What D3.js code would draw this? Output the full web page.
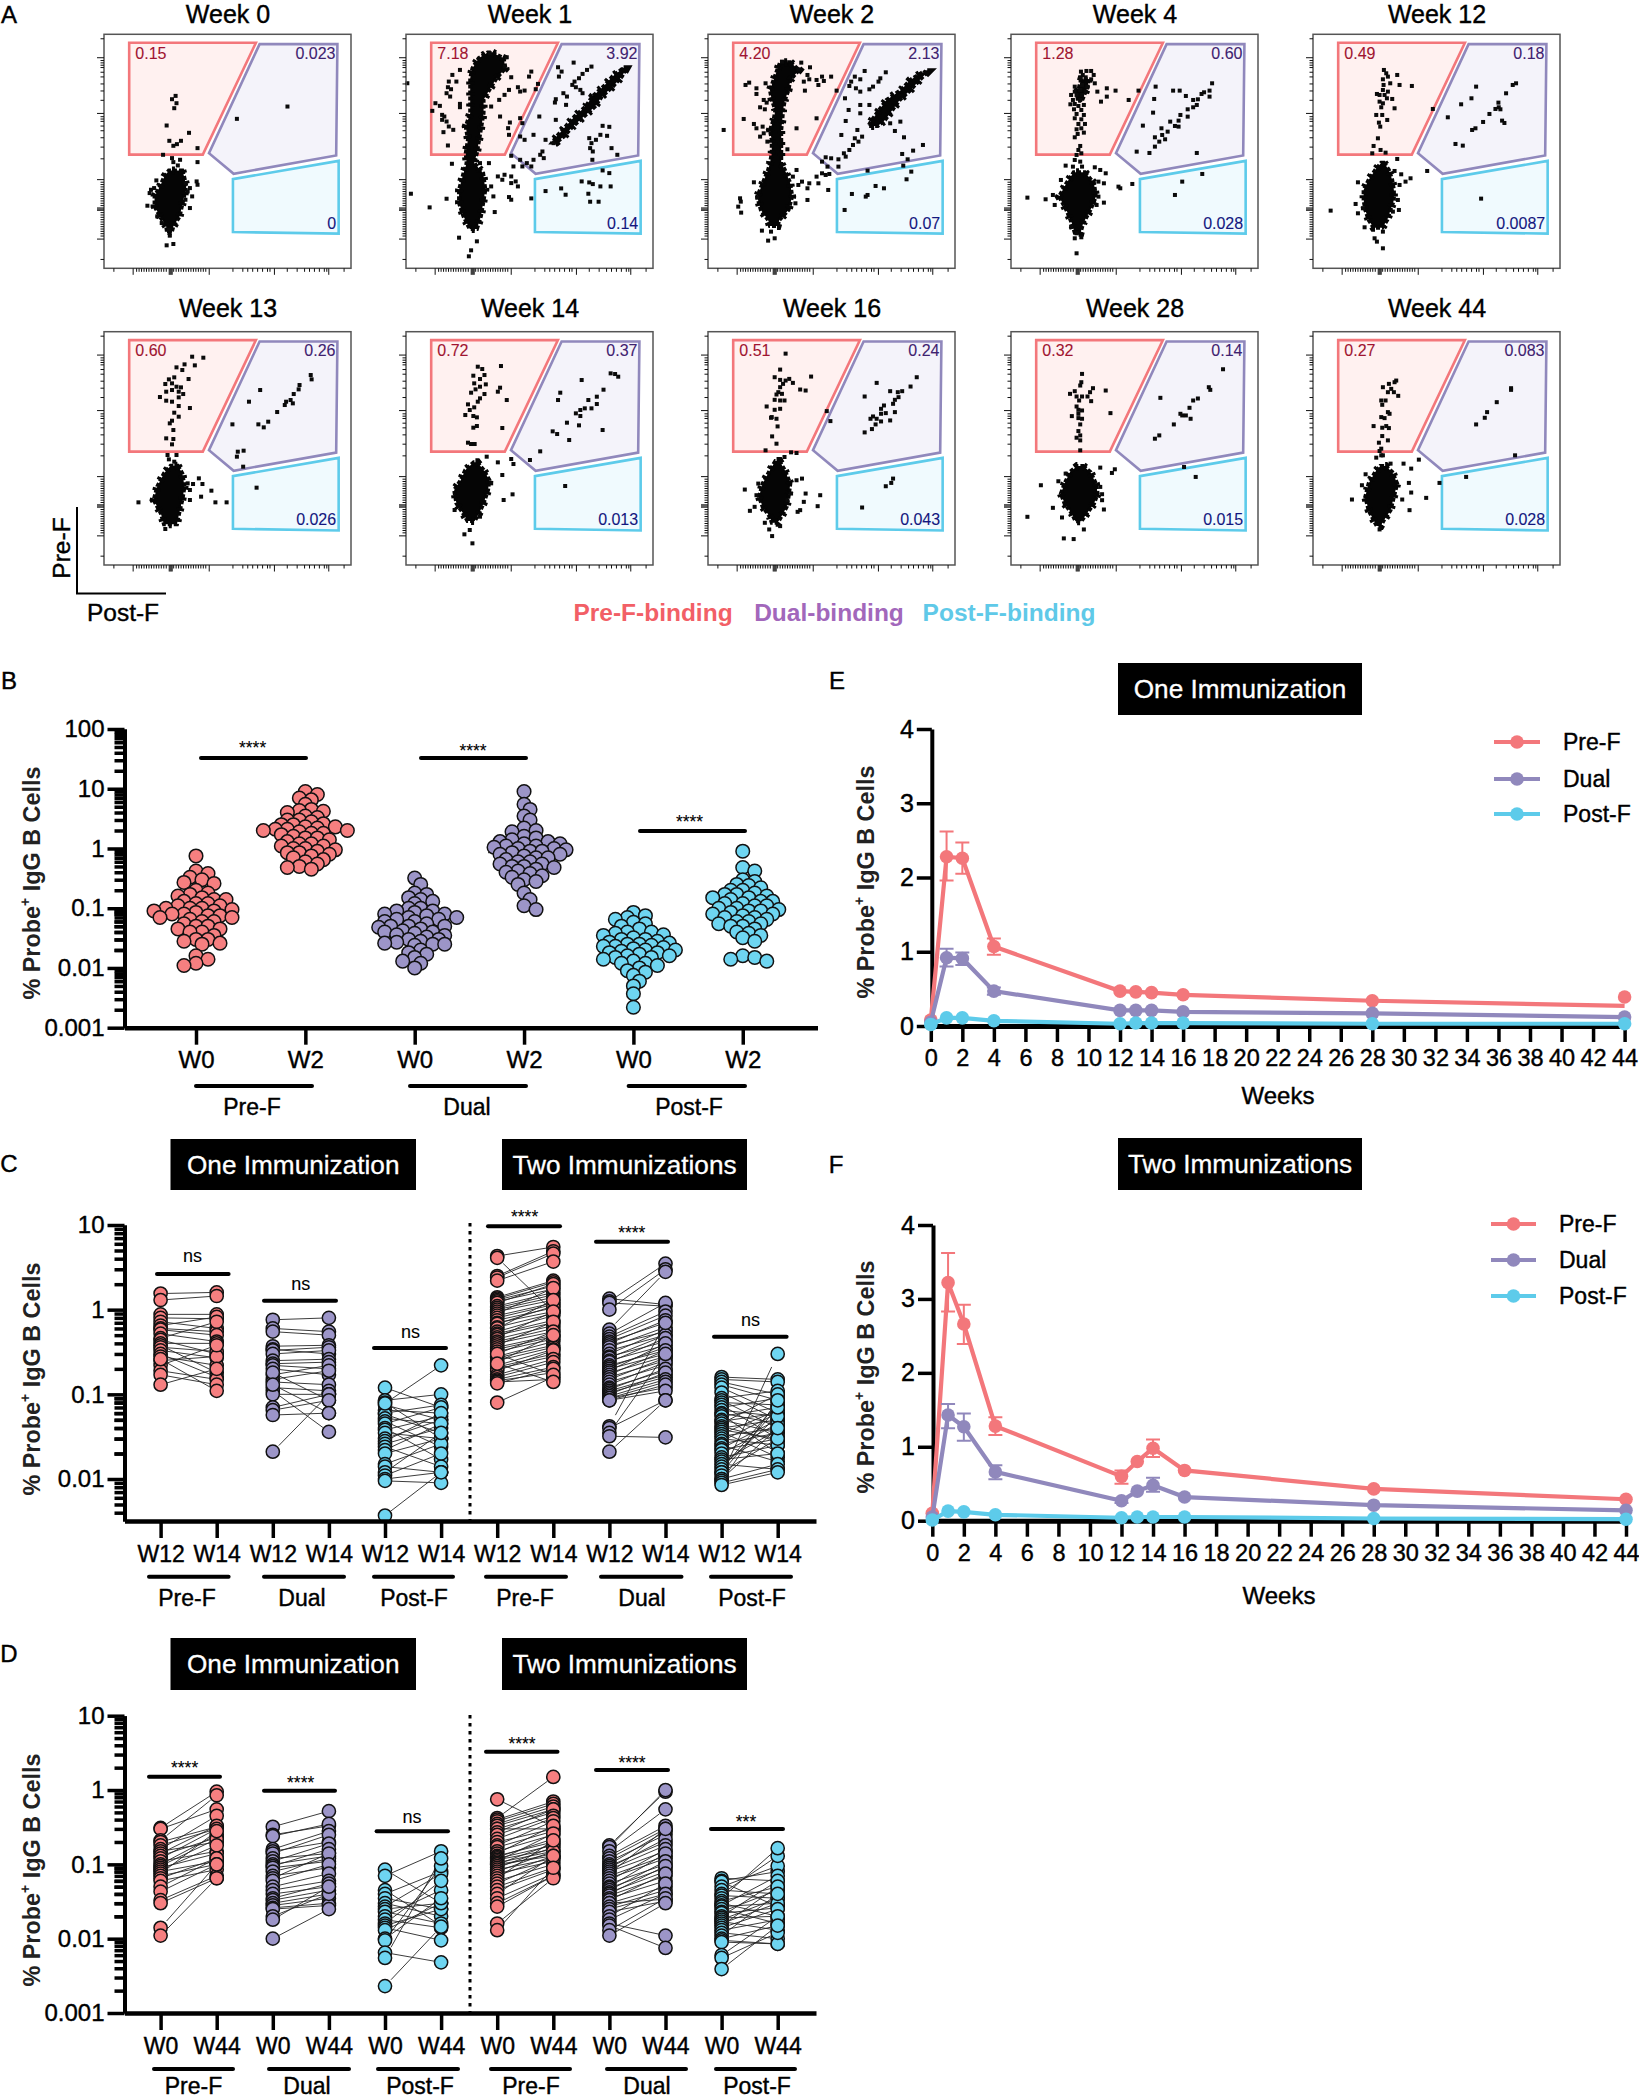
<!DOCTYPE html>
<html><head><meta charset="utf-8">
<script src="https://cdn.jsdelivr.net/npm/d3@7/dist/d3.min.js"></script>
<style>
html,body{margin:0;padding:0;background:#fff}
svg{display:block}
text{font-family:"Liberation Sans",Arial,sans-serif;fill:#000}
</style></head><body>
<svg id="fig" width="1639" height="2100" viewBox="0 0 1639 2100"></svg>
<script>
// ---------- Panel A: flow plots (channel readings, per-week channel windows) ----------
const weekTitles=["Week 0","Week 1","Week 2","Week 4","Week 12","Week 13","Week 14","Week 16","Week 28","Week 44"];
const preGateValues=["0.15","7.18","4.20","1.28","0.49","0.60","0.72","0.51","0.32","0.27"];
const dualGateValues=["0.023","3.92","2.13","0.60","0.18","0.26","0.37","0.24","0.14","0.083"];
const postGateValues=["0","0.14","0.07","0.028","0.0087","0.026","0.013","0.043","0.015","0.028"];
const xChannelWindows=[[233,785],[909,1463],[22,700],[855,1533],[40,782],[233,785],[909,1463],[22,700],[855,1533],[40,782]];
const yChannelWindows=[[103,806],[103,806],[43,745],[43,745],[43,745],[125,825],[125,825],[33,735],[33,735],[33,735]];
const gatePre=[[10.2,3.6],[61.5,3.6],[40,51.4],[10.2,51.4]];
const gateDual=[[63,4.2],[94.5,4.2],[94,51.8],[52.5,59.6],[42.5,50.8]];
const gatePost=[[52.2,61.9],[95,54.1],[95,85.2],[52.2,84.5]];
const flowXMajor=[11.6,26.2,26.6,27,27.4,42.4,68.8,90.8];
const flowXMinor=[3.8,13,14,15,16,17,18,19,20,21,22,23,24,25,28,29,30,31,32,33,34,35,36,37,38,39,40,41,52,56,58,60,62,64,66,67,74,78,81,83,85,87,89,90,97];
const flowYMajor=[9.8,33.6,61.9,74,74.5,75,87.3];
const flowYMinor=[1.7,11,12,13,14,16,18,21,24,28,35,36,37,39,41,44,48,53,63,64,65,66,67,68,69,70,71,72,73,76,77,78,79,80,81,82,83,84,85,86,96];

const week0Cloud=[[512,378,408],[530,368,412],[560,358,417],[590,346,412],[620,346,407],[650,358,402],[680,372,388],[700,374,384]];
const week0Dots=[[393,288],[385,298],[395,310],[390,325],[373,377],[423,399],[379,423],[405,423],[396,433],[388,438],[442,445],[365,465],[385,475],[388,487],[403,480],[442,487],[398,497],[643,320],[530,357],[350,542],[440,545],[442,555],[415,550],[425,565],[338,570],[345,565],[335,580],[330,618],[425,625],[352,650],[362,670],[378,690],[380,708],[373,737],[388,733],[430,590],[415,600],[420,575]];
const week1Cloud=[[158,1092,1103],[175,1072,1128],[205,1058,1132],[235,1053,1112],[265,1053,1098],[300,1053,1083],[340,1053,1083],[380,1043,1078],[420,1048,1073],[460,1043,1068],[490,1045,1062],[520,1038,1082],[570,1028,1087],[610,1028,1082],[650,1038,1077],[688,1052,1068]];
const week1Diag=[[208,1393,1402],[230,1372,1393],[260,1352,1373],[290,1327,1348],[320,1312,1333],[350,1287,1308],[380,1267,1283],[410,1247,1263],[428,1237,1246]];
const week1Dots=[[1097,160],[1135,172],[1030,210],[1013,225],[1190,215],[1185,230],[1005,245],[1022,245],[1003,262],[1010,268],[975,310],[985,318],[1030,312],[1030,322],[1008,290],[1000,280],[968,333],[990,345],[995,350],[990,360],[1000,365],[1005,380],[1015,390],[993,397],[1003,437],[1130,285],[1140,270],[1160,262],[1175,272],[1165,275],[1120,350],[1165,355],[1142,368],[1138,385],[1140,405],[1118,300],[1100,320],[1130,200],[1145,232],[1200,268],[1205,252],[1250,202],[1285,188],[1258,215],[1252,230],[1325,200],[1315,210],[1305,222],[1297,235],[1287,245],[1282,255],[1290,262],[1300,270],[1305,280],[1262,280],[1270,290],[1245,298],[1243,308],[1268,315],[1170,370],[1208,350],[1245,360],[1195,405],[1165,410],[1175,420],[1222,420],[1240,430],[1215,455],[1210,465],[1218,475],[1195,480],[1180,490],[1190,500],[1145,468],[1165,480],[1170,500],[1150,500],[1130,525],[1115,530],[1145,530],[1125,540],[1155,545],[1160,560],[1145,550],[1100,560],[1105,590],[1140,592],[1145,600],[1190,596],[1108,637],[1012,492],[1075,490],[1095,490],[920,582],[962,623],[912,250],[1028,714],[1068,725],[1055,752],[1050,770],[1000,597],[1350,378],[1365,381],[1360,408],[1345,405],[1320,415],[1335,420],[1325,430],[1322,445],[1328,455],[1370,445],[1383,465],[1327,480],[1350,512],[1365,520],[1368,560],[1303,545],[1320,548],[1328,553],[1345,560],[1222,574],[1257,566],[1267,585],[1318,582],[1322,606],[1341,606]];
const week2Cloud=[[127,220,248],[150,212,272],[180,202,248],[210,192,243],[240,197,233],[270,207,228],[300,202,226],[330,192,223],[360,197,223],[400,197,223],[430,192,223],[450,187,233],[490,172,248],[530,157,253],[570,167,243],[600,187,218],[618,192,213]];
const week2Diag=[[157,611,624],[180,577,603],[210,552,578],[240,512,548],[270,492,528],[300,472,508],[318,462,488]];
const week2Dots=[[225,125],[278,128],[302,142],[270,148],[295,165],[300,178],[135,188],[125,195],[155,205],[180,190],[155,222],[285,185],[320,180],[335,170],[340,183],[360,170],[325,195],[375,212],[288,212],[175,240],[183,248],[165,262],[178,268],[120,297],[320,295],[265,325],[148,312],[155,325],[172,320],[175,340],[165,350],[185,365],[240,388],[65,330],[452,153],[510,157],[495,175],[490,185],[475,200],[465,208],[425,170],[440,178],[415,185],[410,198],[428,205],[440,215],[398,235],[440,255],[408,270],[465,255],[440,280],[400,303],[432,330],[425,355],[388,345],[445,350],[435,365],[420,375],[410,390],[395,400],[400,410],[380,418],[360,415],[345,412],[335,425],[350,440],[380,440],[355,462],[335,460],[320,470],[345,465],[300,490],[325,490],[280,485],[265,450],[255,470],[270,495],[295,505],[352,510],[295,540],[262,550],[522,310],[550,305],[535,333],[560,352],[612,375],[585,392],[555,402],[570,418],[558,437],[580,455],[567,478],[505,505],[482,498],[460,525],[455,530],[417,522],[397,570],[460,452],[148,487],[110,535],[112,545],[105,560],[113,578],[157,533],[170,632],[187,662],[205,655],[195,635]];
const week4Cloud=[[457,1027,1058],[490,1007,1083],[530,987,1088],[570,1007,1073],[610,1022,1053],[638,1030,1046]];
const week4Upper=[[178,1048,1068],[200,1042,1066],[220,1036,1058],[236,1038,1052]];
const week4Dots=[[1047,155],[1062,153],[1075,153],[1052,165],[1082,165],[1045,175],[1060,172],[1075,178],[1085,190],[1050,195],[1030,200],[1065,200],[1030,215],[1045,210],[1060,215],[1020,225],[1035,225],[1050,225],[1025,240],[1045,240],[1030,252],[1018,253],[1040,258],[1055,255],[1028,268],[1048,270],[1035,282],[1055,285],[1030,295],[1048,298],[1040,312],[1058,312],[1035,328],[1048,325],[1038,342],[1055,338],[1030,352],[1045,378],[1040,390],[1048,400],[1035,405],[1030,420],[1045,425],[1005,437],[1025,440],[1050,440],[1085,442],[1100,450],[1115,460],[1092,215],[1118,205],[1142,212],[1102,245],[1118,230],[1178,240],[1205,212],[1252,200],[1300,212],[1318,212],[1248,237],[1245,278],[1335,228],[1407,190],[1400,212],[1385,217],[1378,222],[1400,230],[1368,238],[1355,240],[1365,255],[1355,262],[1340,268],[1320,285],[1340,290],[1315,302],[1292,305],[1305,318],[1315,320],[1285,335],[1268,325],[1270,345],[1250,352],[1278,358],[1262,365],[1250,380],[1217,317],[1200,395],[1235,399],[1365,399],[1380,462],[1325,485],[1305,525],[1188,492],[1150,500],[1155,505],[900,533],[950,538],[975,555],[970,525],[992,480],[1110,548],[1090,555],[1095,530],[1020,620],[1035,640],[1048,652],[1030,655],[1035,700],[1110,490],[1095,485]];
const week12Cloud=[[428,245,253],[450,227,268],[480,207,278],[510,192,283],[540,192,283],[570,197,273],[600,207,263],[623,222,248]];
const week12Dots=[[253,150],[260,160],[265,170],[293,165],[250,178],[272,190],[300,195],[337,198],[252,195],[250,210],[265,215],[232,222],[240,225],[255,225],[262,235],[278,237],[240,245],[250,250],[245,262],[285,265],[248,285],[230,285],[263,300],[238,308],[242,320],[235,355],[222,378],[243,390],[258,398],[218,400],[293,417],[400,267],[530,200],[516,235],[485,253],[445,292],[640,195],[650,190],[620,220],[597,248],[598,262],[588,267],[603,268],[570,282],[551,306],[608,302],[615,309],[528,325],[518,330],[468,372],[490,377],[383,453],[333,475],[318,485],[305,463],[285,453],[175,487],[300,495],[295,540],[168,552],[93,572],[175,580],[190,565],[298,570],[280,575],[195,622],[225,655],[232,665],[250,685],[545,536],[250,635]];
const week13Cloud=[[527,382,398],[550,367,408],[590,352,413],[630,344,408],[670,360,401],[703,367,396]];
const week13Dots=[[430,200],[455,203],[413,223],[436,226],[395,232],[408,240],[390,262],[378,268],[422,267],[370,282],[385,280],[395,290],[405,292],[372,305],[385,300],[400,305],[410,312],[358,321],[372,332],[385,335],[400,322],[400,348],[425,354],[390,368],[400,380],[385,392],[380,400],[388,420],[372,445],[388,447],[385,463],[375,495],[395,495],[378,508],[390,515],[310,637],[432,582],[445,565],[453,582],[420,580],[425,600],[473,602],[450,620],[425,630],[482,637],[507,637],[370,717],[582,300],[557,335],[695,255],[697,268],[670,285],[668,298],[657,312],[650,330],[640,335],[637,345],[655,340],[620,366],[600,395],[590,412],[578,403],[520,403],[545,482],[532,485],[530,500],[544,530],[574,593]];
const week14Cloud=[[517,1061,1069],[540,1042,1083],[570,1032,1096],[600,1017,1093],[640,1022,1083],[670,1037,1073],[693,1047,1063]];
const week14Dots=[[1070,230],[1080,237],[1122,228],[1060,257],[1085,255],[1075,267],[1062,280],[1088,283],[1075,290],[1065,298],[1055,308],[1085,312],[1120,293],[1115,305],[1075,325],[1070,335],[1135,330],[1048,343],[1062,352],[1052,360],[1042,375],[1060,378],[1068,382],[1060,413],[1068,408],[1125,414],[1048,458],[1055,462],[1063,462],[1090,500],[1115,517],[1145,507],[1150,522],[1187,510],[1125,555],[1148,613],[1128,630],[1210,484],[1255,308],[1303,270],[1250,330],[1352,299],[1337,320],[1318,330],[1368,250],[1378,252],[1385,260],[1337,342],[1325,355],[1310,355],[1300,360],[1290,370],[1300,378],[1270,398],[1297,406],[1238,424],[1248,432],[1275,450],[1350,420],[1266,588],[1100,580],[1040,733],[1052,720],[1058,760],[1018,660],[1075,680]];
const week16Cloud=[[422,207,218],[450,192,233],[490,172,248],[530,162,243],[560,172,238],[590,192,223],[608,197,213]];
const week16Dots=[[235,99],[220,147],[305,168],[205,170],[220,178],[235,180],[245,175],[255,187],[228,190],[220,200],[215,215],[275,207],[290,210],[210,222],[225,220],[205,238],[220,240],[232,240],[183,258],[205,268],[220,265],[197,290],[210,295],[195,292],[213,318],[198,348],[180,390],[210,370],[250,396],[232,410],[265,398],[348,272],[358,302],[595,170],[578,198],[555,212],[543,215],[522,212],[485,187],[452,228],[545,230],[535,238],[530,250],[505,255],[497,265],[535,275],[510,278],[497,280],[475,288],[468,295],[485,295],[497,303],[522,300],[482,312],[472,326],[452,336],[530,475],[525,488],[510,498],[445,562],[280,475],[265,480],[250,520],[290,520],[330,525],[285,545],[323,558],[275,570],[268,575],[137,572],[123,508],[160,490],[155,525],[178,608],[190,628],[220,618],[198,648],[240,540],[150,560]];
const week28Cloud=[[437,1037,1053],[455,1017,1073],[490,1002,1088],[520,992,1093],[550,1002,1083],[580,1022,1063],[603,1032,1048]];
const week28Dots=[[1050,160],[1048,185],[1045,195],[1115,210],[1080,203],[1030,212],[1017,220],[1072,215],[1035,228],[1050,228],[1065,228],[1042,240],[1075,242],[1035,258],[1040,268],[1050,270],[1128,278],[1040,280],[1022,287],[1040,293],[1050,295],[1045,312],[1040,332],[1045,345],[1035,352],[1045,360],[1045,390],[1100,442],[1140,447],[1132,458],[1005,460],[985,483],[937,495],[900,590],[970,563],[995,592],[1000,655],[1027,657],[1110,568],[1105,540],[1105,522],[1100,500],[1055,628],[1265,232],[1437,146],[1398,200],[1402,208],[1368,234],[1355,240],[1345,262],[1320,280],[1325,285],[1335,285],[1348,295],[1302,312],[1262,345],[1250,355],[1330,440],[1362,470]];
const week44Cloud=[[437,242,258],[455,227,278],[490,207,293],[530,197,283],[570,207,273],[600,222,253],[618,232,243]];
const week44Dots=[[290,180],[285,185],[268,190],[250,200],[275,205],[265,215],[283,215],[296,226],[245,240],[258,240],[248,253],[265,275],[270,280],[245,290],[255,293],[222,317],[260,317],[268,323],[248,322],[248,347],[265,360],[238,367],[245,385],[240,392],[245,405],[230,412],[250,405],[273,430],[312,430],[335,445],[358,418],[328,488],[335,517],[308,538],[380,533],[330,570],[420,488],[157,538],[187,495],[198,462],[500,470],[635,203],[635,208],[592,245],[563,275],[556,292],[530,312],[647,405],[240,628]];
const weekClouds=[week0Cloud,week1Cloud,week2Cloud,week4Cloud,week12Cloud,week13Cloud,week14Cloud,week16Cloud,week28Cloud,week44Cloud];
const weekSecondClouds=[[],week1Diag,week2Diag,week4Upper,[],[],[],[],[],[]];
const weekDots=[week0Dots,week1Dots,week2Dots,week4Dots,week12Dots,week13Dots,week14Dots,week16Dots,week28Dots,week44Dots];

// ---------- Panel B ----------
const bLabels=["W0","W2","W0","W2","W0","W2"];
const bPreW0=[.75,.42,.38,.33,.3,.27,.26,.2,.18,.17,.16,.15,.14,.14,.13,.12,.12,.11,.11,.1,.1,.1,.095,.09,.09,.085,.08,.08,.075,.075,.07,.07,.065,.06,.06,.055,.05,.05,.045,.045,.04,.04,.035,.03,.03,.028,.026,.025,.016,.014,.012,.011];
const bPreW2=[9,8,7,6.5,5.5,4.5,4.3,4.2,4,3.5,3.3,3,3,2.8,2.6,2.5,2.5,2.3,2.3,2.2,2.1,2.1,2,2,1.9,1.8,1.8,1.7,1.6,1.5,1.5,1.4,1.3,1.2,1.2,1.1,1.1,1,1,.95,.9,.85,.85,.8,.75,.7,.65,.6,.55,.5,.48,.45];
const bDualW0=[.32,.25,.18,.17,.15,.14,.13,.12,.1,.1,.09,.09,.085,.08,.08,.075,.07,.07,.065,.065,.06,.06,.055,.05,.05,.05,.048,.045,.042,.04,.04,.038,.036,.035,.033,.03,.03,.028,.027,.026,.025,.025,.024,.02,.018,.017,.015,.013,.012,.01];
const bDualW2=[9,5.5,4.5,3.5,3,2.2,2,1.9,1.6,1.5,1.4,1.3,1.3,1.2,1.2,1.1,1.1,1.05,1,1,.95,.9,.9,.85,.8,.8,.75,.7,.7,.65,.6,.6,.55,.55,.5,.5,.48,.45,.42,.4,.38,.35,.33,.3,.28,.25,.18,.14,.11,.095];
const bPostW0=[.085,.075,.07,.065,.058,.055,.05,.045,.04,.04,.038,.036,.035,.032,.03,.03,.028,.027,.026,.025,.025,.024,.023,.023,.022,.021,.02,.02,.019,.018,.018,.017,.016,.016,.015,.015,.014,.013,.012,.012,.011,.01,.009,.0085,.0075,.006,.005,.0037,.0022];
const bPostW2=[.9,.48,.42,.3,.28,.25,.24,.22,.2,.2,.18,.17,.17,.16,.15,.15,.14,.13,.13,.12,.12,.11,.11,.1,.1,.095,.09,.09,.085,.08,.08,.075,.07,.07,.065,.06,.06,.055,.055,.05,.05,.045,.04,.038,.035,.032,.028,.016,.015,.014,.013];
const bColumns=[bPreW0,bPreW2,bDualW0,bDualW2,bPostW0,bPostW2];
const bCentres=[.08,2.1,.05,.85,.025,.09];
const logMajor5=[100,10,1,.1,.01,.001];
const logMajorLabels=["100","10","1","0.1","0.01","0.001"];
const logMultipliers=[2,3,4,5,6,7,8,9];

// ---------- Panel C pairs [W12,W14] ----------
const cLabels=["W12","W14","W12","W14","W12","W14","W12","W14","W12","W14","W12","W14"];
const cOnePre=[[1.55,1.6],[1.3,1.45],[.88,.88],[.8,.78],[.72,.6],[.65,.82],[.6,.55],[.58,.5],[.52,.42],[.46,.72],[.44,.3],[.4,.4],[.38,.18],[.36,.32],[.33,.27],[.3,.16],[.28,.22],[.25,.28],[.22,.38],[.19,.15],[.17,.13],[.13,.2],[.26,.11]];
const cOneDual=[[.76,.8],[.6,.55],[.55,.5],[.37,.38],[.34,.3],[.33,.36],[.3,.33],[.25,.26],[.23,.24],[.22,.2],[.2,.17],[.17,.22],[.15,.19],[.14,.13],[.12,.11],[.11,.036],[.1,.1],[.07,.1],[.065,.085],[.057,.06],[.021,.1],[.18,.085],[.13,.06]];
const cOnePost=[[.12,.07],[.085,.1],[.08,.03],[.075,.05],[.065,.06],[.06,.075],[.058,.035],[.052,.045],[.048,.024],[.045,.07],[.04,.017],[.038,.055],[.035,.03],[.03,.05],[.028,.06],[.026,.04],[.024,.014],[.022,.045],[.02,.03],[.015,.026],[.014,.012],[.012,.035],[.011,.02],[.01,.012],[.0095,.009],[.0037,.012],[.078,.22]];
const cTwoPre=[[4.3,5.5],[2.5,4.9],[2.4,4.6],[2.2,3.7],[4.1,.95],[1.4,2.2],[1.35,2.1],[1.3,1.9],[1.25,1.75],[1.2,2],[1.1,1.6],[1.05,1.5],[1,1.4],[.95,1.3],[.9,1.8],[.85,1.2],[.8,1.15],[.75,1.05],[.7,.95],[.68,1.1],[.62,.9],[.6,1.3],[.55,.85],[.52,.75],[.5,.7],[.47,.95],[.45,.65],[.42,.6],[.4,.55],[.38,.72],[.36,.5],[.34,.48],[.32,.45],[.3,.55],[.28,.42],[.27,.38],[.25,.36],[.24,.5],[.22,.34],[.21,.3],[.2,.28],[.19,.33],[.17,.26],[.16,.24],[.15,.21],[.145,.18],[.14,.15],[.135,.2],[.08,.16],[.3,.17],[.23,.14]];
const cTwoDual=[[1.35,1.15],[1.25,3.5],[1.2,1.1],[1,3],[.58,2.8],[.52,1.2],[.48,.95],[.45,.85],[.42,.7],[.4,.75],[.38,.55],[.36,.62],[.33,.5],[.3,.58],[.28,.42],[.27,.5],[.25,.38],[.24,.46],[.22,.33],[.21,.36],[.2,.3],[.19,.4],[.18,.28],[.17,.33],[.16,.25],[.15,.27],[.14,.22],[.13,.24],[.12,.19],[.115,.2],[.11,.17],[.105,.16],[.1,.18],[.095,.15],[.09,.14],[.09,.12],[.085,.13],[.085,.11],[.042,.7],[.04,.085],[.035,.3],[.032,.031],[.021,.085]];
const cTwoPost=[[.16,.15],[.15,.14],[.14,.1],[.13,.085],[.12,.06],[.105,.05],[.09,.11],[.085,.04],[.08,.075],[.075,.03],[.07,.09],[.065,.055],[.06,.045],[.058,.02],[.055,.07],[.05,.035],[.048,.06],[.045,.1],[.042,.028],[.04,.05],[.038,.03],[.036,.018],[.034,.065],[.032,.04],[.03,.025],[.028,.06],[.026,.035],[.025,.016],[.023,.05],[.022,.03],[.02,.045],[.018,.025],[.017,.02],[.016,.038],[.015,.013],[.014,.055],[.013,.08],[.012,.07],[.012,.03],[.011,.3],[.01,.04],[.01,.015],[.0095,.085],[.009,.013],[.0085,.012]];
const cGroups=[cOnePre,cOneDual,cOnePost,cTwoPre,cTwoDual,cTwoPost];

// ---------- Panel D pairs [W0,W44] ----------
const dLabels=["W0","W44","W0","W44","W0","W44","W0","W44","W0","W44","W0","W44"];
const dOnePre=[[.31,.95],[.3,.55],[.21,.85],[.2,.32],[.18,.3],[.16,.45],[.15,.2],[.14,.33],[.13,.23],[.12,.3],[.11,.15],[.1,.25],[.095,.22],[.09,.14],[.085,.18],[.08,.11],[.075,.28],[.07,.1],[.065,.12],[.06,.085],[.05,.12],[.043,.1],[.033,.07],[.03,.065],[.014,.1],[.011,.065]];
const dOneDual=[[.32,.52],[.25,.33],[.24,.35],[.16,.28],[.15,.2],[.14,.25],[.12,.14],[.11,.19],[.1,.13],[.095,.16],[.09,.11],[.08,.12],[.07,.09],[.065,.14],[.06,.1],[.05,.075],[.045,.06],[.04,.05],[.035,.055],[.033,.045],[.03,.04],[.028,.035],[.026,.03],[.025,.028],[.02,.04],[.018,.05],[.01,.025]];
const dOnePost=[[.085,.03],[.07,.15],[.045,.015],[.04,.08],[.035,.025],[.03,.02],[.027,.075],[.025,.03],[.023,.016],[.02,.045],[.018,.014],[.016,.06],[.015,.025],[.014,.0095],[.013,.03],[.01,.035],[.0095,.095],[.0065,.0048],[.0055,.12],[.0023,.0145]];
const dTwoPre=[[.75,.32],[.42,1.5],[.4,.7],[.38,.65],[.35,.6],[.33,.55],[.3,.5],[.3,.3],[.27,.55],[.25,.45],[.22,.42],[.2,.3],[.18,.38],[.17,.28],[.15,.25],[.14,.33],[.13,.2],[.125,.22],[.12,.18],[.115,.16],[.11,.26],[.105,.15],[.1,.19],[.1,.13],[.095,.14],[.09,.17],[.085,.12],[.08,.15],[.075,.11],[.07,.13],[.065,.21],[.06,.1],[.055,.12],[.05,.09],[.045,.085],[.04,.13],[.035,.075],[.03,.07],[.027,.07],[.016,.065],[.013,.09]];
const dTwoDual=[[.18,.95],[.17,1],[.15,.55],[.13,.33],[.12,.3],[.11,.25],[.1,.28],[.095,.2],[.09,.22],[.085,.18],[.08,.15],[.075,.3],[.07,.13],[.065,.12],[.06,.16],[.055,.1],[.05,.14],[.048,.09],[.045,.11],[.042,.08],[.04,.095],[.038,.07],[.035,.06],[.033,.075],[.03,.05],[.03,.034],[.027,.045],[.025,.04],[.023,.032],[.02,.055],[.018,.04],[.016,.011],[.015,.0075],[.013,.035],[.011,.03]];
const dTwoPost=[[.065,.06],[.06,.08],[.058,.027],[.05,.095],[.045,.04],[.04,.13],[.038,.035],[.035,.165],[.032,.05],[.03,.02],[.028,.07],[.027,.03],[.025,.016],[.023,.045],[.022,.026],[.02,.06],[.019,.02],[.018,.035],[.017,.013],[.016,.03],[.015,.05],[.014,.025],[.013,.018],[.012,.01],[.011,.04],[.01,.015],[.0095,.0085],[.009,.0085],[.006,.02],[.0055,.012],[.0039,.015]];
const dGroups=[dOnePre,dOneDual,dOnePost,dTwoPre,dTwoDual,dTwoPost];

// ---------- Panels E, F ----------
const weeks=[0,1,2,4,12,13,14,16,28,44];
const ePre=[.08,2.28,2.26,1.07,.47,.46,.45,.42,.34,.39];
const ePreLine=[.08,2.28,2.26,1.07,.47,.46,.45,.42,.34,.27];
const eDual=[.05,.92,.91,.47,.21,.21,.21,.19,.17,.12];
const ePost=[.02,.11,.11,.07,.03,.04,.04,.04,.03,.03];
const ePreLow=[null,1.96,2.05,.96,null,null,null,null,null,null];
const ePreHigh=[null,2.62,2.47,1.18,null,null,null,null,null,null];
const eDualLow=[null,.8,.82,.42,null,null,null,null,null,null];
const eDualHigh=[null,1.04,.99,.52,null,null,null,null,null,null];
const fPre=[.1,3.22,2.66,1.28,.6,.8,.98,.68,.43,.29];
const fDual=[.05,1.43,1.27,.66,.27,.4,.48,.32,.21,.14];
const fPost=[.01,.13,.12,.08,.04,.05,.05,.05,.03,.02];
const fPreLow=[null,2.83,2.39,1.16,.5,null,.86,null,null,null];
const fPreHigh=[null,3.62,2.92,1.4,.68,null,1.1,null,null,null];
const fDualLow=[null,1.25,1.08,.56,.24,null,.39,null,null,null];
const fDualHigh=[null,1.58,1.45,.75,.3,null,.58,null,null,null];
const weekTickValues=d3.range(0,46,2);
const lineTicks=[4,3,2,1,0];
const seriesNames=["Pre-F","Dual","Post-F"];

// ---------- Styles ----------
const C={pre:"#f3777b",dual:"#9088bc",post:"#5dcbea",preDot:"#f67f80",dualDot:"#9c95c8",postDot:"#6ed5f1"};
const svg=d3.select("#fig");
const ink=.4;

function txt(x,y,s,o={}){
  const t=svg.append("text").attr("x",x).attr("y",y).text(s)
    .attr("font-size",o.size||24).attr("text-anchor",o.anchor||"middle")
    .attr("dominant-baseline",o.base||"central")
    .style("fill",o.fill||"#000").attr("font-weight",o.weight||"normal")
    .attr("stroke",o.fill||"#000").attr("stroke-width",o.ink===undefined?ink:o.ink);
  if(o.rotate)t.attr("transform",`rotate(${o.rotate} ${x} ${y})`);
  return t;
}
function bar(x1,x2,y,w=4){svg.append("line").attr("x1",x1).attr("x2",x2).attr("y1",y).attr("y2",y)
  .attr("stroke","#000").attr("stroke-width",w).attr("stroke-linecap","round");}
function yTitle(x,y){
  const t=svg.append("text").attr("transform",`translate(${x},${y}) rotate(-90)`)
    .attr("text-anchor","middle").attr("dominant-baseline","central")
    .attr("font-size",23.4).attr("font-weight","bold").style("fill","#222");
  t.append("tspan").text("% Probe");
  t.append("tspan").text("+").attr("font-size",14).attr("dy",-7);
  t.append("tspan").text(" IgG B Cells").attr("dy",7);
}
function blackBox(x0,x1,y0,y1,s){
  svg.append("rect").attr("x",x0).attr("y",y0).attr("width",x1-x0).attr("height",y1-y0).attr("fill","#000");
  txt((x0+x1)/2,(y0+y1)/2,s,{fill:"#fff",size:26.2,ink:.3});
}
function styleAxis(g,domainW=4,tickW=3.5,size=24){
  g.select(".domain").attr("stroke","#000").attr("stroke-width",domainW);
  g.selectAll(".tick line").attr("stroke","#000").attr("stroke-width",tickW);
  g.selectAll(".tick text").attr("font-size",size).attr("font-family",'"Liberation Sans",Arial,sans-serif')
    .attr("stroke","#000").attr("stroke-width",ink);
}
function logAxes(y,majors,labels,xPos){
  const [lo,hi]=[y.domain()[0],y.domain()[1]];
  const minors=[];
  majors.forEach(m=>logMultipliers.forEach(k=>{const v=m*k;if(v>lo&&v<hi)minors.push(v);}));
  majors.filter(m=>m*0.1<hi).forEach(m=>logMultipliers.forEach(k=>{const v=m*.1*k;if(v>lo&&v<hi&&!minors.includes(v))minors.push(v);}));
  const gm=svg.append("g").attr("transform",`translate(${xPos},0)`)
    .call(d3.axisLeft(y).tickValues(minors).tickSize(10).tickFormat("").tickSizeOuter(0));
  styleAxis(gm);
  const g=svg.append("g").attr("transform",`translate(${xPos},0)`)
    .call(d3.axisLeft(y).tickValues(majors).tickSize(17).tickPadding(3).tickSizeOuter(0)
      .tickFormat((d,i)=>labels[i]));
  styleAxis(g);
}
function catAxis(x,yPos,labels,pad,size=23){
  const g=svg.append("g").attr("transform",`translate(0,${yPos})`)
    .call(d3.axisBottom(x).tickValues(labels.map((d,i)=>i)).tickSize(17).tickPadding(pad).tickSizeOuter(0)
      .tickFormat((d,i)=>labels[i]));
  styleAxis(g,4.5,3.5,size);
}

// ---------- Panel A ----------
txt(9,14,"A",{size:24});
const flowLeft=[104,406,708,1011,1313], flowW=247;
const flowRows=[[34.3,268.3],[331.7,565]];
const titleY=[14,308];
const pctX=(i,L)=>d3.scaleLinear().domain([0,100]).range([L,L+flowW]);
weekTitles.forEach((title,i)=>{
  const col=i%5,row=i<5?0:1,L=flowLeft[col],[T,B]=flowRows[row];
  const px=pctX(i,L),py=d3.scaleLinear().domain([0,100]).range([T,B]);
  const cx=d3.scaleLinear().domain(xChannelWindows[i]).range([L,L+flowW]);
  const cy=d3.scaleLinear().domain(yChannelWindows[i]).range([T,B]);
  const g=svg.append("g");
  txt(L+124,titleY[row],title,{size:25});
  const gate=(pts,fill,stroke)=>g.append("path")
    .attr("d",d3.line().x(d=>px(d[0])).y(d=>py(d[1])).curve(d3.curveLinearClosed)(pts))
    .attr("fill",fill).attr("stroke",stroke).attr("stroke-width",2.6).attr("stroke-linejoin","miter");
  gate(gatePre,"#fff1f0",C.pre); gate(gateDual,"#f4f3fa",C.dual); gate(gatePost,"#f0fafe",C.post);
  const area=d3.area().y(d=>cy(d[0])).x0(d=>cx(d[1])).x1(d=>cx(d[2]));
  const cloud=rows=>{
    if(!rows.length)return;
    const d=area(rows);
    g.append("path").attr("d",d).attr("fill","#050505");
    g.append("path").attr("d",d).attr("fill","none").attr("stroke","#050505").attr("stroke-width",4).attr("stroke-dasharray","4 2");
    g.append("path").attr("d",d).attr("fill","none").attr("stroke","#050505").attr("stroke-width",8).attr("stroke-dasharray","3 8");
  };
  cloud(weekClouds[i]); cloud(weekSecondClouds[i]);
  g.selectAll("rect.pt").data(weekDots[i]).join("rect").attr("class","pt")
    .attr("x",d=>cx(d[0])-2).attr("y",d=>cy(d[1])-2).attr("width",4).attr("height",4).attr("fill","#0a0a0a");
  g.append("rect").attr("x",L).attr("y",T).attr("width",flowW).attr("height",B-T).attr("fill","none").attr("stroke","#555").attr("stroke-width",1.5);
  // ticks
  const tk=(axisFn,scale,vals,size,tr)=>{const a=g.append("g").attr("transform",tr)
    .call(axisFn(scale).tickValues(vals).tickSize(size).tickFormat("").tickSizeOuter(0));
    a.select(".domain").remove();a.selectAll("line").attr("stroke","#111").attr("stroke-width",1);};
  tk(d3.axisBottom,px,flowXMinor,3.5,`translate(0,${B})`);
  tk(d3.axisBottom,px,flowXMajor,6.5,`translate(0,${B})`);
  tk(d3.axisLeft,py,flowYMinor,3.5,`translate(${L},0)`);
  tk(d3.axisLeft,py,flowYMajor,7,`translate(${L},0)`);
  txt(px(12.7),py(8.1),preGateValues[i],{size:16,anchor:"start",fill:"#a01431",ink:.1});
  txt(px(93.7),py(8.1),dualGateValues[i],{size:16,anchor:"end",fill:"#3f2270",ink:.1});
  txt(px(94),py(80.7),postGateValues[i],{size:16,anchor:"end",fill:"#13177f",ink:.1});
});
svg.append("path").attr("d","M77,507V593.5H166").attr("fill","none").attr("stroke","#000").attr("stroke-width",2);
txt(61.5,548,"Pre-F",{size:24.5,rotate:-90});
txt(123,612,"Post-F",{size:24.5});
txt(653,612,"Pre-F-binding",{size:24.5,weight:"bold",fill:"#f25f66",ink:0});
txt(829,612,"Dual-binding",{size:24.5,weight:"bold",fill:"#a267bb",ink:0});
txt(1009,612,"Post-F-binding",{size:24.5,weight:"bold",fill:"#5fc9e8",ink:0});

// ---------- Panel B ----------
txt(9,680,"B",{size:24});
const byB=d3.scaleLog().domain([.001,100]).range([1027.7,729]);
const bX=d3.scaleLinear().domain([(124.5-196)/109.35,(817.5-196)/109.35]).range([124.5,817.5]);
const bFill=[C.preDot,C.preDot,C.dualDot,C.dualDot,C.postDot,C.postDot];
function swarm(vals,y,x0,minD,step){
  const placed=[];
  vals.slice().sort((a,b)=>b-a).forEach(v=>{
    const py=y(v);let off=0,k=0;
    while(placed.some(p=>Math.hypot(p.x-(x0+off),p.y-py)<minD)){k++;off=(k%2?1:-1)*Math.ceil(k/2)*step;}
    placed.push({x:x0+off,y:py});
  });
  return placed;
}
bColumns.forEach((vals,i)=>{
  const c=bX(i);
  svg.append("line").attr("x1",c-36).attr("x2",c+36).attr("y1",byB(bCentres[i])).attr("y2",byB(bCentres[i])).attr("stroke","#111").attr("stroke-width",1);
  svg.append("g").selectAll("circle").data(swarm(vals,byB,c,7.2,6)).join("circle")
    .attr("cx",d=>d.x).attr("cy",d=>d.y).attr("r",6.8).attr("fill",bFill[i]).attr("stroke","#111").attr("stroke-width",1.5);
});
logAxes(byB,logMajor5,logMajorLabels,124.5);
catAxis(bX,1027.7,bLabels,6,24);
yTitle(32,883);
[[201,306,758,252.6,743],[421,526,758,473,745.7],[640,745,831,689.5,817.3]].forEach(a=>{
  bar(a[0],a[1],a[2],4);txt(a[3],a[4]+11,"****",{size:17.5,base:"auto",ink:.1});});
[[196,312,252,"Pre-F"],[410,526,467,"Dual"],[628.6,745,689,"Post-F"]].forEach(a=>{
  bar(a[0],a[1],1086,4);txt(a[2],1107,a[3],{size:23});});

// ---------- Paired panels ----------
function paired(groups,y,yAxisBottom,majors,labels,xlabels,dotTop,letter,letterY,boxY){
  txt(9,letterY,letter,{size:24});
  blackBox(170.5,416,boxY[0],boxY[1],"One Immunization");
  blackBox(502,747,boxY[0],boxY[1],"Two Immunizations");
  const x=d3.scaleLinear().domain([(124.5-160.6)/56.1,(816-160.6)/56.1]).range([124.5,816]);
  const fills=[C.preDot,C.dualDot,C.postDot,C.preDot,C.dualDot,C.postDot];
  const ln=d3.line().x(d=>d.x).y(d=>d.y);
  groups.forEach((pairs,g)=>{
    const gp=svg.append("g");
    [0,1].forEach(k=>{
      gp.append("g").selectAll("circle").data(pairs).join("circle")
        .attr("cx",x(2*g+k)).attr("cy",p=>y(p[k])).attr("r",6.6)
        .attr("fill",fills[g]).attr("stroke","#111").attr("stroke-width",1.5);
    });
    gp.append("g").selectAll("path").data(pairs).join("path")
      .attr("d",p=>ln([{x:x(2*g)+6,y:y(p[0])+(y(p[1])-y(p[0]))*6/56},{x:x(2*g+1)-6,y:y(p[1])-(y(p[1])-y(p[0]))*6/56}]))
      .attr("stroke","#262626").attr("stroke-width",.9).attr("fill","none");
  });
  logAxes(y,majors,labels,124.5);
  catAxis(x,yAxisBottom,xlabels,7.5,23);
  svg.append("line").attr("x1",470).attr("x2",470).attr("y1",dotTop).attr("y2",yAxisBottom)
    .attr("stroke","#000").attr("stroke-width",3).attr("stroke-dasharray","3.5 4.5");
}
const cY=d3.scaleLog().domain([Math.pow(10,-2.496),10]).range([1521,1225]);
paired(cGroups,cY,1521,[10,1,.1,.01],["10","1","0.1","0.01"],cLabels,1223,"C",1163,[1139,1190]);
yTitle(32,1379);
[[157,228.6,1274,192.5,1255.7,"ns"],[264,336,1300.7,300.7,1284,"ns"],[374,446,1348,410.6,1332.3,"ns"],[488,560,1226.3,524.6,1211.7,"****"],[596,668,1241.7,631.8,1228.3,"****"],[714,786.6,1336.7,750.5,1320,"ns"]].forEach(a=>{
  bar(a[0],a[1],a[2],4);
  if(a[5]==="ns")txt(a[3],a[4],a[5],{size:18,ink:.1});else txt(a[3],a[4]+11,a[5],{size:17.5,base:"auto",ink:.1});
});
[[149,228.6,187,"Pre-F"],[264,344,302,"Dual"],[374,453,414,"Post-F"],[486,566,525,"Pre-F"],[601,681.5,642,"Dual"],[711,791,752,"Post-F"]].forEach(a=>{
  bar(a[0],a[1],1576.7,4);txt(a[2],1598,a[3],{size:23});});

const dY=d3.scaleLog().domain([.001,10]).range([2013,1715.7]);
paired(dGroups,dY,2013,[10,1,.1,.01,.001],["10","1","0.1","0.01","0.001"],dLabels,1715,"D",1653,[1638,1690]);
yTitle(32,1870);
[[149,220,1776.7,184.6,1763.3,"****"],[264,335,1790.7,300.7,1777.7,"****"],[376.6,448,1831.3,412,1816.7,"ns"],[486,557.5,1751.7,522,1739.3,"****"],[596,668,1770,632,1757.7,"****"],[711,783,1829,746,1816.7,"***"]].forEach(a=>{
  bar(a[0],a[1],a[2],4);
  if(a[5]==="ns")txt(a[3],a[4],a[5],{size:18,ink:.1});else txt(a[3],a[4]+11,a[5],{size:17.5,base:"auto",ink:.1});
});
[[154,233,193.5,"Pre-F"],[269,349,307,"Dual"],[378,458,420,"Post-F"],[491,570,531,"Pre-F"],[607,686,647,"Dual"],[716,795,757,"Post-F"]].forEach(a=>{
  bar(a[0],a[1],2069,4);txt(a[2],2085.5,a[3],{size:23});});

// ---------- Line panels ----------
function linePanel(o){
  txt(o.letter[1],o.letter[2],o.letter[0],{size:24});
  blackBox(1118,1362,o.box[0],o.box[1],o.boxText);
  const x=d3.scaleLinear().domain([0,44]).range([o.x0,o.x1]);
  const y=d3.scaleLinear().domain([0,4]).range(o.y);
  const yg=svg.append("g").attr("transform",`translate(${o.ax},0)`)
    .call(d3.axisLeft(y).tickValues(lineTicks).tickSize(15).tickPadding(3).tickSizeOuter(0).tickFormat(d3.format("d")));
  styleAxis(yg,4,3.5,25);
  const xg=svg.append("g").attr("transform",`translate(0,${o.y[0]})`)
    .call(d3.axisBottom(x).tickValues(weekTickValues).tickSize(16).tickPadding(7.5).tickSizeOuter(0));
  styleAxis(xg,5,3.5,23.5);
  yTitle(866,o.titleY);
  txt(o.weeksX,o.weeksY,"Weeks",{size:24});
  const ln=d3.line().x((d,i)=>x(weeks[i])).y(d=>y(d));
  const cols=[C.pre,C.dual,C.post];
  o.series.forEach((s,k)=>{
    const c=cols[k],g=svg.append("g");
    (s.err||[]).length&&weeks.forEach((w,i)=>{
      if(s.err[0][i]==null)return;
      const X=x(w),a=y(s.err[0][i]),b=y(s.err[1][i]);
      g.append("path").attr("d",`M${X-7},${a}H${X+7}M${X},${a}V${b}M${X-7},${b}H${X+7}`)
        .attr("stroke",c).attr("stroke-width",2).attr("fill","none");
    });
    g.append("path").attr("d",ln(s.line)).attr("fill","none").attr("stroke",c).attr("stroke-width",4.2);
    g.selectAll("circle").data(s.dots).join("circle").attr("cx",(d,i)=>x(weeks[i])).attr("cy",d=>y(d)).attr("r",6.8).attr("fill",c);
  });
  seriesNames.forEach((n,k)=>{
    const Y=o.legY[k];
    svg.append("line").attr("x1",o.legX[0]).attr("x2",o.legX[1]).attr("y1",Y).attr("y2",Y).attr("stroke",cols[k]).attr("stroke-width",4.2);
    svg.append("circle").attr("cx",(o.legX[0]+o.legX[1])/2).attr("cy",Y).attr("r",6.8).attr("fill",cols[k]);
    txt(o.legX[2],Y,n,{size:23,anchor:"start"});
  });
}
linePanel({letter:["E",837,680],box:[663,715],boxText:"One Immunization",x0:930.8,x1:1624.6,y:[1026,729],ax:931.8,titleY:882,weeksX:1278,weeksY:1095,
  legX:[1494,1540,1563],legY:[742,779,814],
  series:[{line:ePreLine,dots:ePre,err:[ePreLow,ePreHigh]},{line:eDual,dots:eDual,err:[eDualLow,eDualHigh]},{line:ePost,dots:ePost}]});
linePanel({letter:["F",836,1164],box:[1138,1190],boxText:"Two Immunizations",x0:932.3,x1:1626,y:[1520.7,1225],ax:933,titleY:1377,weeksX:1279,weeksY:1595,
  legX:[1491,1536,1559],legY:[1224,1260,1296],
  series:[{line:fPre,dots:fPre,err:[fPreLow,fPreHigh]},{line:fDual,dots:fDual,err:[fDualLow,fDualHigh]},{line:fPost,dots:fPost}]});
</script>
</body></html>
